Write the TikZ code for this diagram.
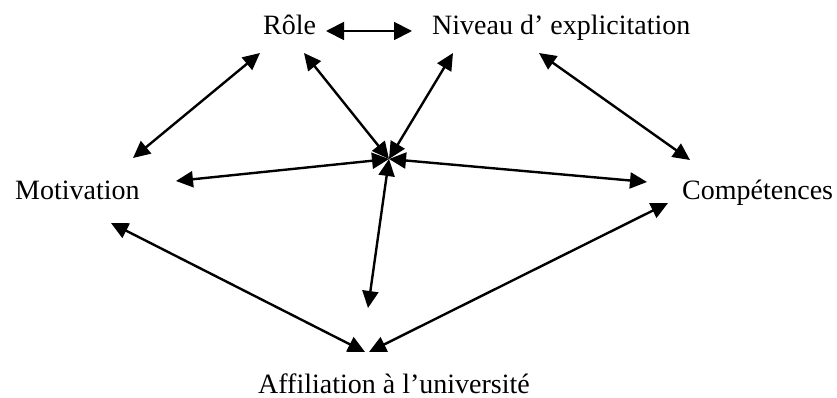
\documentclass[tikz,border=0pt]{standalone}
\usepackage{fontspec}
\setmainfont{Liberation Serif}
\usetikzlibrary{arrows.meta}
\begin{document}
\begin{tikzpicture}[x=1pt,y=-1pt,
  lbl/.style={font=\fontsize{28}{32}\selectfont, anchor=base west, inner sep=0pt},
  link/.style={line width=2.4pt, {Triangle[length=17pt,width=16pt]}-{Triangle[length=17pt,width=16pt]}},
  thinlink/.style={line width=1.9pt, {Triangle[length=18pt,width=18pt]}-{Triangle[length=18pt,width=18pt]}}]
\useasboundingbox (0,0) rectangle (837,398);
% labels
\node[lbl] (role) at (263,35) {Rôle};
\node[lbl] (niveau) at (432,35) {Niveau d’ explicitation};
\node[lbl] (motiv) at (15,200) {Motivation};
\node[lbl] (comp) at (682,200) {Compétences};
\node[lbl] (affil) at (258,393) {Affiliation à l’université};
% anchor coordinates
\coordinate (hub) at (389,159);
\coordinate (role-e) at (326,31);
\coordinate (niv-w) at (412,31);
\coordinate (role-sw) at (260,53);
\coordinate (role-se) at (304,53);
\coordinate (niv-sw) at (453,53);
\coordinate (niv-se) at (539,53);
\coordinate (motiv-ne) at (133,158);
\coordinate (motiv-e) at (176,181);
\coordinate (motiv-s) at (111,223);
\coordinate (comp-nw) at (690,160);
\coordinate (comp-w) at (647,182);
\coordinate (comp-sw) at (668,203);
\coordinate (affil-n) at (368,308);
\coordinate (affil-nw) at (365,352);
\coordinate (affil-ne) at (369,352);
% connectors
\draw[thinlink] (role-e) -- (niv-w);
\draw[link] (role-sw) -- (motiv-ne);
\draw[link] (role-se) -- (hub);
\draw[link] (niv-sw) -- (hub);
\draw[link] (niv-se) -- (comp-nw);
\draw[link] (motiv-e) -- (hub);
\draw[link] (hub) -- (comp-w);
\draw[link] (hub) -- (affil-n);
\draw[link] (motiv-s) -- (affil-nw);
\draw[link] (comp-sw) -- (affil-ne);
\end{tikzpicture}
\end{document}
